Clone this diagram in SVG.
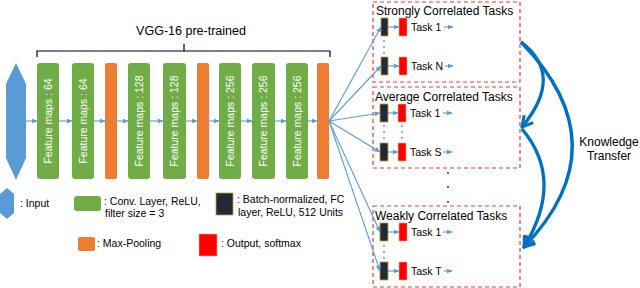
<svg xmlns="http://www.w3.org/2000/svg" width="640" height="288" viewBox="0 0 640 288">
<defs>
<style>
.t{font-family:"Liberation Sans",Arial,sans-serif;fill:#000}
.fm{font-family:"Liberation Sans",Arial,sans-serif;fill:#fff;font-size:10.5px}
.g{fill:#70AD47}
.o{fill:#ED7D31}
.b{fill:#222A35;stroke:#C5963A;stroke-width:0.8}
.r{fill:#FF0000;stroke:#F4B183;stroke-width:0.6}
.c{stroke:#5B9BD5;stroke-width:1.1;fill:none;marker-end:url(#ah)}
.d{fill:none;stroke:#E03C3C;stroke-width:1.2;stroke-dasharray:4 3}
.k{fill:none;stroke:#0070C0;stroke-width:3.3;marker-end:url(#kh)}
.dot{fill:#222}
</style>
<marker id="ah" viewBox="0 0 6 6" refX="5.5" refY="3" markerWidth="6" markerHeight="6" markerUnits="userSpaceOnUse" orient="auto">
<path d="M0,0.5 L6,3 L0,5.5 Z" fill="#5B9BD5"/>
</marker>
<marker id="kh" viewBox="0 0 14 14" refX="12" refY="7" markerWidth="14" markerHeight="14" markerUnits="userSpaceOnUse" orient="auto">
<path d="M1.5,1.2 L12,7 L1.5,12.8" fill="none" stroke="#0070C0" stroke-width="3" stroke-linejoin="miter"/>
</marker>
</defs>
<rect width="640" height="288" fill="#fff"/>

<g id="bracket">
<path d="M37,57 L37,51 L330,51 L330,57 M184,51 L184,44" fill="none" stroke="#000" stroke-width="1.2"/>
<text class="t" x="191" y="35" font-size="12.5" text-anchor="middle">VGG-16 pre-trained</text>
</g>

<g id="input">
<polygon points="16,63 26,84 26,158 16,180 6,158 6,84" fill="#5B9BD5"/>
</g>

<g id="conv1"><rect class="g" x="37" y="63" width="22" height="116" rx="3"/><text class="fm" transform="translate(48,121) rotate(-90)" y="3.7" text-anchor="middle">Feature maps : 64</text></g>
<g id="conv2"><rect class="g" x="72" y="63" width="22" height="116" rx="3"/><text class="fm" transform="translate(83,121) rotate(-90)" y="3.7" text-anchor="middle">Feature maps : 64</text></g>
<g id="pool1"><rect class="o" x="105" y="63" width="12" height="116" rx="2"/></g>
<g id="conv3"><rect class="g" x="128" y="63" width="22" height="116" rx="3"/><text class="fm" transform="translate(139,121) rotate(-90)" y="3.7" text-anchor="middle">Feature maps : 128</text></g>
<g id="conv4"><rect class="g" x="163" y="63" width="23" height="116" rx="3"/><text class="fm" transform="translate(174.5,121) rotate(-90)" y="3.7" text-anchor="middle">Feature maps : 128</text></g>
<g id="pool2"><rect class="o" x="197" y="63" width="12" height="116" rx="2"/></g>
<g id="conv5"><rect class="g" x="219" y="63" width="22" height="116" rx="3"/><text class="fm" transform="translate(230,121) rotate(-90)" y="3.7" text-anchor="middle">Feature maps : 256</text></g>
<g id="conv6"><rect class="g" x="252" y="63" width="23" height="116" rx="3"/><text class="fm" transform="translate(263.5,121) rotate(-90)" y="3.7" text-anchor="middle">Feature maps : 256</text></g>
<g id="conv7"><rect class="g" x="286" y="63" width="22" height="116" rx="3"/><text class="fm" transform="translate(297,121) rotate(-90)" y="3.7" text-anchor="middle">Feature maps : 256</text></g>
<g id="pool3"><rect class="o" x="317" y="63" width="12" height="116" rx="2"/></g>

<g id="group-strong">
<rect class="d" x="373" y="2" width="147" height="80"/>
<text class="t" x="376" y="15" font-size="12">Strongly Correlated Tasks</text>
<rect class="b" x="381" y="18" width="7" height="18"/>
<rect class="r" x="399" y="18" width="8" height="18"/>
<text class="t" x="411" y="31" font-size="10.5">Task 1</text>
<rect class="b" x="381" y="57" width="7" height="18"/>
<rect class="r" x="399" y="57" width="8" height="18"/>
<text class="t" x="411" y="70" font-size="10.5">Task N</text>
<circle class="dot" cx="384" cy="41" r="0.7"/><circle class="dot" cx="384" cy="47" r="0.7"/><circle class="dot" cx="384" cy="53" r="0.7"/>
</g>

<g id="group-average">
<rect class="d" x="373" y="87" width="147" height="81"/>
<text class="t" x="375" y="101" font-size="12">Average Correlated Tasks</text>
<rect class="b" x="380" y="104" width="8" height="18"/>
<rect class="r" x="398" y="104" width="8" height="18"/>
<text class="t" x="410" y="117" font-size="10.5">Task 1</text>
<rect class="b" x="380" y="143" width="8" height="18"/>
<rect class="r" x="398" y="143" width="8" height="18"/>
<text class="t" x="410" y="156" font-size="10.5">Task S</text>
<circle class="dot" cx="384" cy="126" r="0.7"/><circle class="dot" cx="384" cy="132" r="0.7"/><circle class="dot" cx="384" cy="138" r="0.7"/>
<circle class="dot" cx="402" cy="126" r="0.7"/><circle class="dot" cx="402" cy="132" r="0.7"/><circle class="dot" cx="402" cy="138" r="0.7"/>
</g>

<g id="more-dots">
<circle class="dot" cx="448" cy="173" r="0.9"/><circle class="dot" cx="448" cy="187" r="0.9"/><circle class="dot" cx="448" cy="202" r="0.9"/>
</g>

<g id="group-weak">
<rect class="d" x="373" y="206" width="147" height="81"/>
<text class="t" x="375" y="220" font-size="12">Weakly Correlated Tasks</text>
<rect class="b" x="380" y="223" width="8" height="18"/>
<rect class="r" x="399" y="223" width="8" height="18"/>
<text class="t" x="411" y="236" font-size="10.5">Task 1</text>
<rect class="b" x="380" y="262" width="8" height="18"/>
<rect class="r" x="399" y="262" width="8" height="18"/>
<text class="t" x="411" y="275" font-size="10.5">Task T</text>
<circle class="dot" cx="384" cy="246" r="0.7"/><circle class="dot" cx="384" cy="252" r="0.7"/><circle class="dot" cx="384" cy="258" r="0.7"/>
</g>

<g id="connectors">
<line class="c" x1="26" y1="121" x2="37" y2="121"/>
<line class="c" x1="59" y1="121" x2="72" y2="121"/>
<line class="c" x1="94" y1="121" x2="105" y2="121"/>
<line class="c" x1="117" y1="121" x2="128" y2="121"/>
<line class="c" x1="150" y1="121" x2="163" y2="121"/>
<line class="c" x1="186" y1="121" x2="197" y2="121"/>
<line class="c" x1="209" y1="121" x2="219" y2="121"/>
<line class="c" x1="241" y1="121" x2="252" y2="121"/>
<line class="c" x1="275" y1="121" x2="286" y2="121"/>
<line class="c" x1="308" y1="121" x2="317" y2="121"/>
<line class="c" x1="329" y1="121" x2="381" y2="27"/>
<line class="c" x1="329" y1="121" x2="381" y2="66"/>
<line class="c" x1="329" y1="121" x2="380" y2="113"/>
<line class="c" x1="329" y1="121" x2="380" y2="152"/>
<line class="c" x1="329" y1="121" x2="380" y2="232"/>
<line class="c" x1="329" y1="121" x2="380" y2="271"/>
<line class="c" x1="388" y1="27" x2="399" y2="27"/>
<line class="c" x1="388" y1="66" x2="399" y2="66"/>
<line class="c" x1="388" y1="113" x2="398" y2="113"/>
<line class="c" x1="388" y1="152" x2="398" y2="152"/>
<line class="c" x1="388" y1="232" x2="399" y2="232"/>
<line class="c" x1="388" y1="271" x2="399" y2="271"/>
<line class="c" x1="444" y1="27" x2="453" y2="27"/>
<line class="c" x1="445" y1="66" x2="453" y2="66"/>
<line class="c" x1="443" y1="113" x2="452" y2="113"/>
<line class="c" x1="443" y1="152" x2="452" y2="152"/>
<line class="c" x1="443" y1="232" x2="452" y2="232"/>
<line class="c" x1="444" y1="271" x2="452" y2="271"/>
</g>

<g id="knowledge-transfer">
<path class="k" d="M521,42 Q565,75 522,127"/>
<path class="k" d="M522,129 Q565,180 524,247"/>
<path class="k" d="M521,42 Q622,145 524,247"/>
<text class="t" x="609" y="146" font-size="12" text-anchor="middle">Knowledge</text>
<text class="t" x="609" y="160" font-size="12" text-anchor="middle">Transfer</text>
</g>

<g id="legend">
<polygon points="7,188 14,194 14,213 7,219 0,213 0,194" fill="#5B9BD5"/>
<text class="t" x="20" y="207" font-size="10.5">: Input</text>
<rect class="g" x="74" y="196" width="27" height="15" rx="3"/>
<text class="t" x="104" y="205" font-size="10.5">: Conv. Layer, ReLU,</text>
<text class="t" x="105" y="217" font-size="10.5">filter size = 3</text>
<rect class="b" x="216" y="193" width="17" height="22"/>
<text class="t" x="237" y="203" font-size="10.5">: Batch-normalized, FC</text>
<text class="t" x="238" y="216" font-size="10.5">layer, ReLU, 512 Units</text>
<rect class="o" x="78" y="237" width="17" height="14" rx="2"/>
<text class="t" x="97" y="247" font-size="10.5">: Max-Pooling</text>
<rect class="r" x="199" y="234" width="18" height="22"/>
<text class="t" x="221" y="247" font-size="10.5">: Output,  softmax</text>
</g>
</svg>
